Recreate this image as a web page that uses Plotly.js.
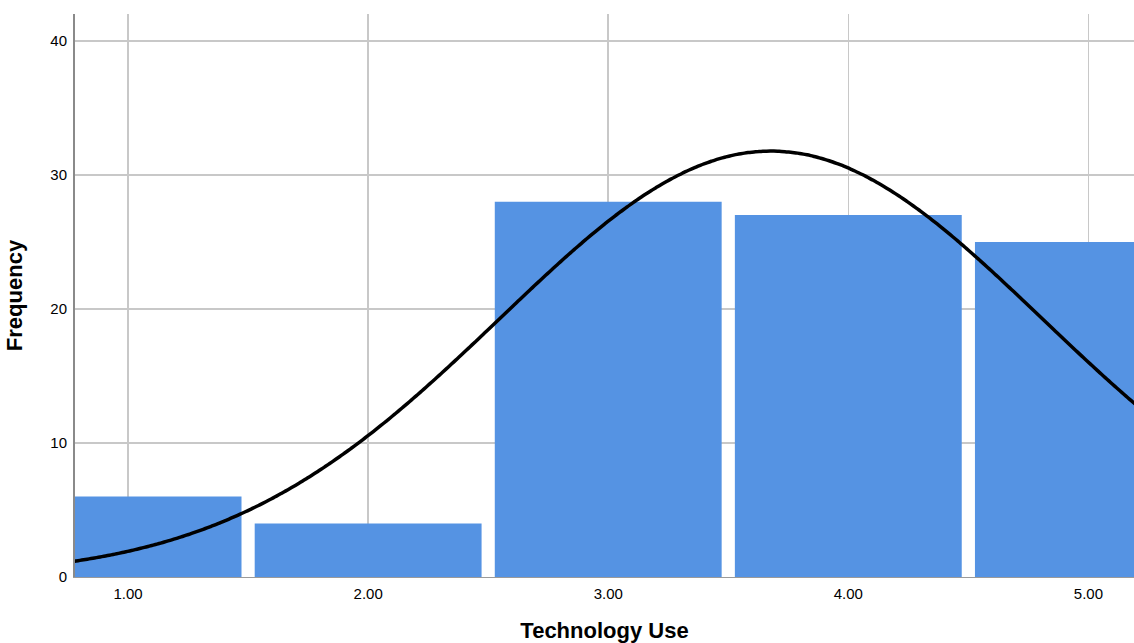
<!DOCTYPE html>
<html>
<head>
<meta charset="utf-8">
<script src="https://cdn.plot.ly/plotly-3.0.1.min.js"></script>
<style>html,body{margin:0;padding:0;background:#fff;}#chart{width:1134px;height:643px;}</style>
</head>
<body>
<div id="chart"></div>
<script>
// Data
const categories = [1, 2, 3, 4, 5];
const frequencies = [6, 4, 28, 27, 25];
const tickValues = [1, 2, 3, 4, 5];
const tickLabels = ["1.00", "2.00", "3.00", "4.00", "5.00"];

// Normal curve fitted to the same data (mean & sample SD of the observations)
const n = frequencies.reduce((a, b) => a + b, 0);
const mean = categories.reduce((s, c, i) => s + c * frequencies[i], 0) / n;
const variance = categories.reduce((s, c, i) => s + frequencies[i] * (c - mean) ** 2, 0) / (n - 1);
const sd = Math.sqrt(variance);
const binWidth = 1;
const curveX = [];
const curveY = [];
for (let k = 0; k <= 300; k++) {
  const x = 0.7 + k * (5.3 - 0.7) / 300;
  curveX.push(x);
  curveY.push(n * binWidth * Math.exp(-0.5 * ((x - mean) / sd) ** 2) / (sd * Math.sqrt(2 * Math.PI)));
}

const bars = {
  type: 'bar',
  x: categories,
  y: frequencies,
  width: 0.945,
  marker: {color: '#5593e3', line: {width: 0}},
  hoverinfo: 'x+y'
};
const curve = {
  type: 'scatter',
  mode: 'lines',
  x: curveX,
  y: curveY,
  line: {color: '#000000', width: 3.5, shape: 'spline'},
  hoverinfo: 'skip'
};

const layout = {
  width: 1134,
  height: 643,
  margin: {l: 75, r: 0, t: 14, b: 66},
  paper_bgcolor: '#ffffff',
  plot_bgcolor: '#ffffff',
  showlegend: false,
  font: {family: 'Liberation Sans, Arial, sans-serif', color: '#000'},
  xaxis: {
    range: [0.779, 5.19],
    tickvals: tickValues,
    ticktext: tickLabels,
    showgrid: true,
    gridcolor: '#c8c8c8',
    gridwidth: 1.5,
    zeroline: false,
    showline: true,
    linecolor: '#9a9a9a',
    linewidth: 1,
    ticks: '',
    ticklabelstandoff: 3,
    tickfont: {size: 15, color: '#000'},
    title: {text: 'Technology Use', font: {size: 22, color: '#000', family: 'Liberation Sans, Arial, sans-serif', weight: 'bold'}, standoff: 27},
    automargin: false,
    fixedrange: true
  },
  yaxis: {
    range: [0, 42],
    dtick: 10,
    tick0: 0,
    showgrid: true,
    gridcolor: '#c8c8c8',
    gridwidth: 1.5,
    zeroline: false,
    showline: true,
    linecolor: '#8a8a8a',
    linewidth: 2,
    ticks: '',
    ticklabelstandoff: 3,
    tickfont: {size: 15, color: '#000'},
    title: {text: 'Frequency', font: {size: 22, color: '#000', family: 'Liberation Sans, Arial, sans-serif', weight: 'bold'}, standoff: 22},
    automargin: false,
    fixedrange: true
  }
};

Plotly.newPlot('chart', [bars, curve], layout, {displayModeBar: false, staticPlot: true});
</script>
</body>
</html>
